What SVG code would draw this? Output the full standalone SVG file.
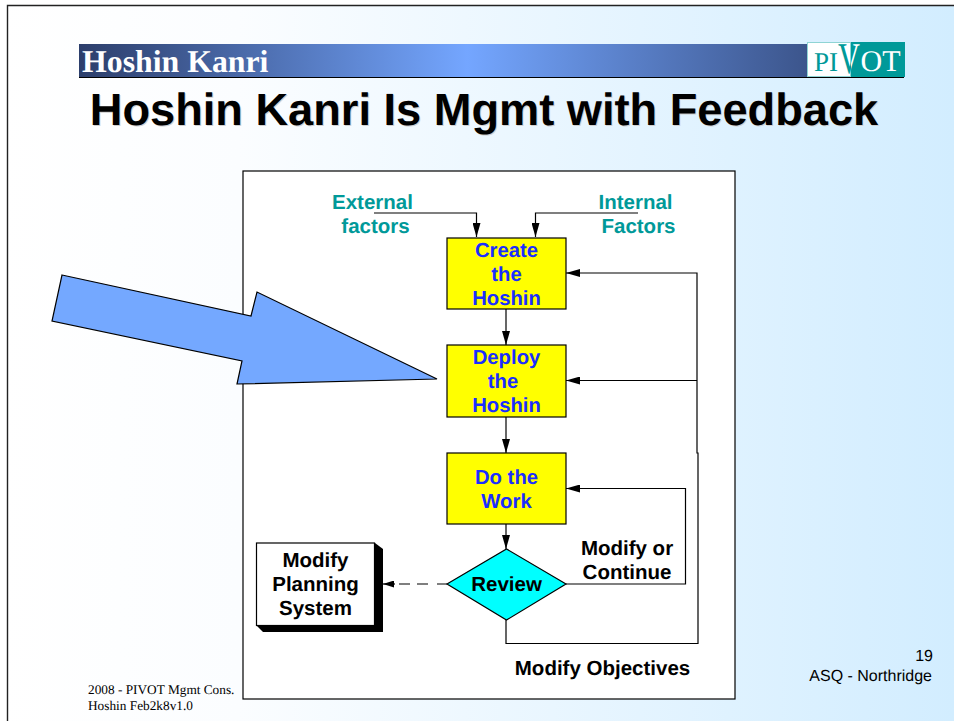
<svg xmlns="http://www.w3.org/2000/svg" width="954" height="721" viewBox="0 0 954 721">
<defs>
<linearGradient id="bg" gradientUnits="userSpaceOnUse" x1="0" y1="0" x2="954" y2="0"><stop offset="0" stop-color="#ffffff"/><stop offset="0.25" stop-color="#fbfdff"/><stop offset="1" stop-color="#d2edff"/></linearGradient>
<linearGradient id="band" x1="0" y1="0" x2="1" y2="0"><stop offset="0" stop-color="#2c3e6b"/><stop offset="0.47" stop-color="#74a6ff"/><stop offset="1" stop-color="#2c3e6b"/></linearGradient>
<linearGradient id="vfill" gradientUnits="userSpaceOnUse" x1="0" y1="0" x2="31.800" y2="0"><stop offset="0.57" stop-color="#009999"/><stop offset="0.57" stop-color="#ffffff"/></linearGradient>
<marker id="ah" viewBox="0 0 14 8" refX="14" refY="4" markerWidth="14" markerHeight="8" markerUnits="userSpaceOnUse" orient="auto"><path d="M0 0L14 4L0 8Z" fill="#000"/></marker>
<marker id="ahs" viewBox="0 0 11 7" refX="11" refY="3.500" markerWidth="11" markerHeight="7" markerUnits="userSpaceOnUse" orient="auto"><path d="M0 0L11 3.500L0 7Z" fill="#000"/></marker>
</defs>
<style>
text{font-family:"Liberation Sans",Arial,sans-serif;font-weight:bold;text-anchor:middle;text-rendering:geometricPrecision}
.b{fill:#ffff00;stroke:#000;stroke-width:1.2}
.bl{fill:#1a2eff;font-size:20.300px}
.k{fill:#000;font-size:20.500px}
.te{fill:#009999;font-size:20.500px}
.c{fill:none;stroke:#000;stroke-width:1.2}
.a{marker-end:url(#ah)}
.s{font-family:"Liberation Serif",serif;font-weight:normal;text-anchor:start;font-size:13.300px;fill:#000}
.r{font-weight:normal;font-size:16px;text-anchor:end;fill:#000}
.lg{font-family:"Liberation Serif",serif;font-weight:normal;text-anchor:start}
</style>
<rect width="954" height="721" fill="#fff"/>
<rect x="8" y="6" width="946" height="715" fill="url(#bg)"/>
<path d="M7.500 721V5.500H954" fill="none" stroke="#222" stroke-width="1.400"/>
<g id="header">
<rect x="79" y="44" width="826" height="33" fill="url(#band)"/>
<path d="M79 77.500H904" stroke="#000" stroke-width="1.200"/>
<text x="82" y="72" style="font-family:'Liberation Serif',serif;font-size:31.800px;text-anchor:start" fill="#fff">Hoshin Kanri</text>
</g>
<g id="logo">
<rect x="807" y="42" width="98" height="35" fill="#009999"/>
<rect x="807.500" y="42.500" width="43" height="34" fill="#fff" stroke="#8fd4d4"/>
<text class="lg" x="814" y="71" style="font-size:27px" fill="#009999">PI</text>
<text class="lg" transform="translate(838 73) scale(0.690 1)" x="0" y="0" style="font-size:44px" fill="url(#vfill)">V</text>
<text class="lg" x="860.500" y="71" style="font-size:30px" fill="#fff">OT</text>
</g>
<text id="title-shadow" x="485" y="126" style="font-size:45.200px" fill="#d0d0d0">Hoshin Kanri Is Mgmt with Feedback</text>
<text id="title" x="484" y="125" style="font-size:45.200px" fill="#000">Hoshin Kanri Is Mgmt with Feedback</text>
<rect id="panel" x="243" y="171" width="492" height="528" fill="#fff" stroke="#000" stroke-width="1.200"/>
<g id="connectors">
<path class="c a" d="M374 213H476.500V237"/>
<path class="c a" d="M638 213H535.500V237"/>
<path class="c a" d="M506 309V345"/>
<path class="c a" d="M506 417V453"/>
<path class="c a" d="M506 524V549"/>
<path class="c a" d="M506 620V643.500H698V453H697V273H566"/>
<path class="c a" d="M697 380.500H566"/>
<path class="c a" d="M566 584H685.500V488.500H566"/>
<path class="c" d="M447 584H399" stroke-dasharray="10 9 11 7 11"/>
<path class="c" d="M395 584H383" style="marker-end:url(#ahs)"/>
</g>
<g id="create"><rect class="b" x="447" y="238" width="119" height="71"/><text class="bl" x="506.500" y="257">Create</text><text class="bl" x="506.500" y="281">the</text><text class="bl" x="506.500" y="305">Hoshin</text></g>
<g id="deploy"><rect class="b" x="447" y="345" width="119" height="72"/><text class="bl" x="506.500" y="364">Deploy</text><text class="bl" x="503" y="388">the</text><text class="bl" x="506.500" y="412">Hoshin</text></g>
<g id="work"><rect class="b" x="447" y="453" width="119" height="71"/><text class="bl" x="506.500" y="484">Do the</text><text class="bl" x="506.500" y="508">Work</text></g>
<g id="review"><path d="M447 584L506.500 549L566 584L506.500 620Z" fill="#00ffff" stroke="#000" stroke-width="1.200"/><text class="k" x="506.500" y="591">Review</text></g>
<g id="modify-planning"><path d="M256 543H375L383 549V632H263L256 625Z" fill="#000"/><rect x="256.500" y="543" width="118" height="82.500" fill="#fff" stroke="#000" stroke-width="1.200"/><text class="k" x="315.500" y="567">Modify</text><text class="k" x="315.500" y="591">Planning</text><text class="k" x="315.500" y="615">System</text></g>
<g id="external"><text class="te" x="372.500" y="209">External</text><text class="te" x="375.500" y="233">factors</text></g>
<g id="internal"><text class="te" x="635.500" y="209">Internal</text><text class="te" x="638.500" y="233">Factors</text></g>
<g id="labels"><text class="k" x="627" y="555">Modify or</text><text class="k" x="627" y="579">Continue</text><text class="k" x="602.500" y="675">Modify Objectives</text></g>
<path id="big-arrow" d="M62 275L251 316L257 292L437 379L237 384L242 361L52 321Z" fill="#74a8ff" stroke="#000" stroke-width="1.200"/>
<g id="footer">
<text class="s" x="88" y="694">2008 - PIVOT Mgmt Cons.</text>
<text class="s" x="88" y="710">Hoshin Feb2k8v1.0</text>
<text class="r" x="933" y="661">19</text>
<text class="r" x="932" y="681">ASQ - Northridge</text>
</g>
</svg>
